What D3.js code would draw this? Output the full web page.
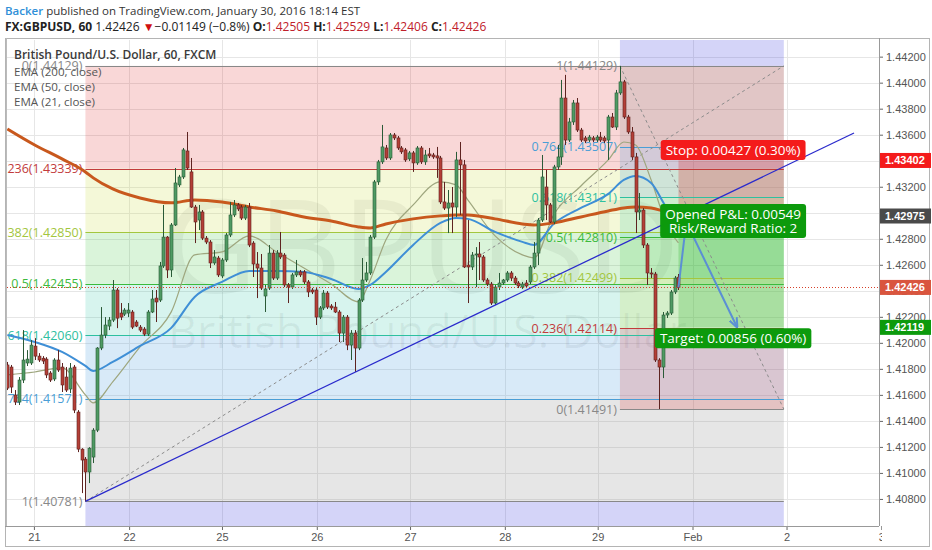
<!DOCTYPE html>
<html><head><meta charset="utf-8">
<script src="https://cdn.jsdelivr.net/npm/d3@7"></script>
<style>body{margin:0;background:#fff;} svg{display:block;font-family:"Open Sans",sans-serif;} text{white-space:pre;}</style>
</head><body><svg id="c" width="932" height="550"></svg>
<script>
// ---------------- DATA ----------------
const author = "Backer";
const symbol = "FX:GBPUSD, 60";
const lastPrice = 1.42426, change = "\u22120.01149 (\u22120.8%)";
const ohlcLast = ["1.42505","1.42529","1.42406","1.42426"];
const chartTitle = "British Pound/U.S. Dollar, 60, FXCM";
const legendNames = ["EMA (200, close)","EMA (50, close)","EMA (21, close)"];

const startIndex = -7;
const opens = [1.41830,1.41814,1.41599,1.41545,1.41714,1.41845,1.41845,1.41975,1.41898,1.41882,
1.41875,1.41768,1.41722,1.41868,1.41814,1.41737,1.41645,1.41814,1.41468,1.41183,
1.41106,1.41007,1.41122,1.41329,1.41960,1.42060,1.42129,1.42175,1.42406,1.42229,
1.42221,1.42229,1.42237,1.42160,1.42121,1.42106,1.42067,1.42237,1.42344,1.42329,
1.42591,1.42813,1.42560,1.42906,1.43214,1.43275,1.43475,1.43314,1.43044,1.42944,
1.43006,1.42805,1.42775,1.42614,1.42652,1.42514,1.42637,1.42829,1.42983,1.43060,
1.43044,1.42959,1.43044,1.42767,1.42606,1.42575,1.42360,1.42421,1.42690,1.42498,
1.42690,1.42675,1.42445,1.42429,1.42522,1.42545,1.42545,1.42468,1.42406,1.42406,
1.42198,1.42268,1.42383,1.42283,1.42275,1.42237,1.42075,1.42198,1.41983,1.42075,
1.41960,1.42329,1.42483,1.42537,1.42813,1.43237,1.43391,1.43498,1.43421,1.43598,
1.43575,1.43498,1.43483,1.43414,1.43460,1.43383,1.43498,1.43391,1.43452,1.43444,
1.43437,1.43421,1.43083,1.43036,1.43075,1.43044,1.43406,1.43368,1.42598,1.42583,
1.42675,1.42683,1.42660,1.42483,1.42452,1.42306,1.42429,1.42460,1.42483,1.42537,
1.42498,1.42460,1.42429,1.42460,1.42468,1.42583,1.42690,1.42944,1.43198,1.43060,
1.42929,1.43352,1.43429,1.43882,1.43559,1.43698,1.43844,1.43636,1.43575,1.43559,
1.43575,1.43559,1.43582,1.43575,1.43559,1.43736,1.43659,1.43921,1.44006,1.43736,
1.43621,1.43429,1.43006,1.43021,1.42752,1.42537,1.42529,1.41868,1.41814,1.42214,
1.42229,1.42391,1.42505];
const highs = [1.41853,1.41830,1.41637,1.41737,1.42098,1.41944,1.42021,1.42036,1.41921,1.41898,
1.41890,1.41783,1.41882,1.41944,1.41845,1.41814,1.41845,1.41830,1.41483,1.41190,
1.41122,1.41198,1.41344,1.41967,1.42275,1.42198,1.42198,1.42483,1.42421,1.42306,
1.42267,1.42306,1.42252,1.42175,1.42137,1.42121,1.42252,1.42406,1.42406,1.42622,
1.43060,1.42821,1.42921,1.43344,1.43291,1.43498,1.43621,1.43421,1.43060,1.43060,
1.43021,1.42821,1.42790,1.42713,1.42668,1.42652,1.42844,1.43083,1.43098,1.43075,
1.43060,1.43060,1.43075,1.42782,1.42698,1.42683,1.42445,1.42752,1.42713,1.42713,
1.42852,1.42690,1.42460,1.42537,1.42637,1.42560,1.42560,1.42483,1.42421,1.42421,
1.42283,1.42406,1.42398,1.42298,1.42314,1.42252,1.42214,1.42214,1.42098,1.42098,
1.42344,1.42652,1.42622,1.42829,1.43252,1.43406,1.43675,1.43521,1.43613,1.43613,
1.43590,1.43513,1.43498,1.43475,1.43475,1.43513,1.43513,1.43483,1.43498,1.43460,
1.43506,1.43437,1.43237,1.43175,1.43198,1.43468,1.43544,1.43406,1.42944,1.42698,
1.42736,1.42775,1.42675,1.42498,1.42468,1.42445,1.42537,1.42491,1.42552,1.42552,
1.42514,1.42475,1.42468,1.42483,1.42598,1.42775,1.42959,1.43444,1.43329,1.43075,
1.43368,1.43521,1.44021,1.44060,1.43729,1.43867,1.43882,1.43652,1.43590,1.43598,
1.43590,1.43598,1.43621,1.43590,1.43752,1.43767,1.43944,1.44129,1.44021,1.43752,
1.43659,1.43460,1.43152,1.43036,1.42767,1.42575,1.42545,1.41882,1.42237,1.42244,
1.42406,1.42514,1.42529];
const lows = [1.41637,1.41614,1.41522,1.41522,1.41691,1.41822,1.41830,1.41868,1.41853,1.41837,
1.41729,1.41699,1.41706,1.41776,1.41622,1.41622,1.41614,1.41460,1.41160,1.40845,
1.40781,1.40922,1.41076,1.41314,1.41944,1.42036,1.42098,1.42160,1.42113,1.42175,
1.42206,1.42198,1.42106,1.42121,1.42083,1.42052,1.42052,1.42229,1.42160,1.42314,
1.42576,1.42498,1.42506,1.42898,1.43198,1.43260,1.43329,1.43037,1.42767,1.42867,
1.42790,1.42759,1.42575,1.42599,1.42506,1.42498,1.42622,1.42813,1.42967,1.43013,
1.42944,1.42944,1.42736,1.42506,1.42344,1.42406,1.42237,1.42406,1.42483,1.42483,
1.42644,1.42429,1.42306,1.42414,1.42506,1.42506,1.42452,1.42352,1.42375,1.42137,
1.42183,1.42252,1.42260,1.42252,1.42229,1.42006,1.42006,1.41944,1.41868,1.41776,
1.41944,1.42314,1.42468,1.42522,1.42798,1.43214,1.43375,1.43406,1.43406,1.43559,
1.43483,1.43452,1.43391,1.43398,1.43314,1.43368,1.43375,1.43368,1.43421,1.43414,
1.43268,1.43067,1.43021,1.42844,1.42844,1.42967,1.42983,1.42575,1.42306,1.42560,
1.42429,1.42483,1.42468,1.42437,1.42291,1.42291,1.42406,1.42445,1.42468,1.42475,
1.42445,1.42421,1.42414,1.42421,1.42452,1.42568,1.42598,1.42929,1.42944,1.42921,
1.42913,1.43329,1.43368,1.43521,1.43544,1.43675,1.43621,1.43544,1.43536,1.43544,
1.43544,1.43544,1.43544,1.43536,1.43406,1.43652,1.43636,1.43906,1.43721,1.43606,
1.43406,1.42844,1.42944,1.42729,1.42445,1.42498,1.41853,1.41491,1.41729,1.42191,
1.42214,1.42375,1.42406];
const closes = [1.41652,1.41660,1.41545,1.41714,1.41868,1.41875,1.41983,1.41898,1.41868,1.41860,
1.41753,1.41714,1.41868,1.41791,1.41676,1.41637,1.41806,1.41483,1.41183,1.41099,
1.41007,1.41190,1.41329,1.41960,1.42060,1.42137,1.42175,1.42406,1.42190,1.42198,
1.42252,1.42252,1.42121,1.42129,1.42098,1.42067,1.42237,1.42337,1.42314,1.42591,
1.42813,1.42560,1.42906,1.43229,1.43275,1.43483,1.43344,1.43044,1.42929,1.43006,
1.42805,1.42775,1.42614,1.42660,1.42522,1.42637,1.42829,1.42983,1.43060,1.43029,
1.42959,1.43044,1.42752,1.42606,1.42575,1.42421,1.42414,1.42690,1.42498,1.42690,
1.42660,1.42445,1.42429,1.42522,1.42545,1.42522,1.42468,1.42391,1.42391,1.42198,
1.42268,1.42383,1.42275,1.42268,1.42237,1.42075,1.42198,1.41983,1.42075,1.41960,
1.42329,1.42483,1.42537,1.42813,1.43237,1.43391,1.43506,1.43421,1.43598,1.43575,
1.43498,1.43468,1.43406,1.43460,1.43383,1.43498,1.43391,1.43444,1.43437,1.43429,
1.43421,1.43083,1.43036,1.43075,1.43044,1.43406,1.43368,1.42583,1.42583,1.42675,
1.42683,1.42660,1.42483,1.42452,1.42306,1.42429,1.42460,1.42483,1.42537,1.42498,
1.42460,1.42437,1.42452,1.42437,1.42583,1.42690,1.42944,1.43275,1.43060,1.42929,
1.43352,1.43429,1.43882,1.43559,1.43698,1.43844,1.43636,1.43559,1.43552,1.43582,
1.43559,1.43582,1.43559,1.43552,1.43736,1.43659,1.43921,1.44006,1.43736,1.43621,
1.43429,1.43006,1.43021,1.42752,1.42537,1.42529,1.41868,1.41814,1.42214,1.42229,
1.42391,1.42498,1.42426];

const emaIdx = [-7,0,7,13,15,20,27,35,41,48,55,62,69,76,83,86,90,97,104,108,111,118,125,128,133,140,147,151,154,158,162,165];
const ema200 = [1.43644,1.43521,1.43414,1.43314,1.43268,1.43183,1.43114,1.43076,1.43099,1.43083,1.43045,1.43014,1.42968,1.42937,1.42891,1.42883,1.42914,1.42953,1.42976,1.42983,1.42983,1.42953,1.42914,1.42906,1.42922,1.42968,1.43014,1.43037,1.43045,1.43037,1.43006,1.42991];
const ema50 = [1.42061,1.42007,1.41930,1.41823,1.41784,1.41853,1.41976,1.42115,1.42353,1.42468,1.42553,1.42553,1.42545,1.42491,1.42414,1.42445,1.42545,1.42753,1.42922,1.42960,1.42953,1.42853,1.42776,1.42753,1.42914,1.43037,1.43145,1.43252,1.43283,1.43229,1.43037,1.42930];
const ema21 = [1.41753,1.41776,1.41807,1.41600,1.41538,1.41700,1.41969,1.42238,1.42676,1.42699,1.42822,1.42699,1.42576,1.42453,1.42315,1.42484,1.42791,1.43060,1.43237,1.43214,1.43099,1.42822,1.42676,1.42653,1.42983,1.43206,1.43406,1.43544,1.43521,1.43252,1.42906,1.42768];

const priceTicks = [1.408,1.410,1.412,1.414,1.416,1.418,1.420,1.422,1.424,1.426,1.428,1.430,1.432,1.434,1.436,1.438,1.440,1.442];
const dayLabels = ["21","22","25","26","27","28","29","Feb","2","3"];
const dayIndex = [-0.2,24.2,48,72.3,96.2,120.5,144.3,168.6,192.7,217];

const fibLevels = ["0","0.236","0.382","0.5","0.618","0.764","1"];
const fib1Prices = [1.44129,1.43339,1.42850,1.42455,1.42060,1.41571,1.40781];
const fib1Ext = 1.38712;
const fib1Span = [13,192];
const fib2Prices = [1.41491,1.42114,1.42499,1.42810,1.43121,1.43507,1.44129];
const fib2Ext = 1.45759;
const fib2Span = [150,192];

const posSpan = [165,192];
const entryPrice = 1.42975, stopPrice = 1.43402, targetPrice = 1.42119;
const stopText = "Stop: 0.00427 (0.30%)";
const pnlText = ["Opened P&L: 0.00549","Risk/Reward Ratio: 2"];
const targetText = "Target: 0.00856 (0.60%)";

const trendIdx = [13,210], trendPrice = [1.40781,1.43613];
const projIdx = [165,167,180], projPrice = [1.42426,1.42929,1.42122];

// ---------------- DRAW ----------------
const svg = d3.select('#c');
const L=7,R=879,T=40,B=526;
const x = d3.scaleLinear().domain([-7.1,216.4]).range([L,R]);
const y = d3.scaleLinear().domain([1.40592,1.44328]).range([B,T]);

const defs = svg.append('defs');
defs.append('clipPath').attr('id','plot').append('rect').attr('x',L).attr('y',T).attr('width',R-L).attr('height',B-T);
defs.append('clipPath').attr('id','xax').append('rect').attr('x',L).attr('y',B).attr('width',R-L+3).attr('height',25);
defs.append('marker').attr('id','arr').attr('viewBox','0 0 10 10').attr('refX',9).attr('refY',5)
  .attr('markerWidth',5).attr('markerHeight',5).attr('orient','auto')
  .append('path').attr('d','M0,1 L10,5 L0,9').attr('fill','none').attr('stroke','#5b8fd4').attr('stroke-width',2);

// header
const h1 = svg.append('text').attr('x',5).attr('y',15).style('font-size','11.5px');
h1.append('tspan').text(author).attr('fill','#2f8fd8').attr('font-weight',600);
h1.append('tspan').text(' published on TradingView.com, January 30, 2016 18:14 EST').attr('fill','#333');
const h2 = svg.append('text').attr('x',5).attr('y',31).style('font-size','12px').attr('fill','#222');
h2.append('tspan').text(symbol+' ').attr('font-weight',700);
h2.append('tspan').text(lastPrice.toFixed(5)+' ');
h2.append('tspan').text('\u25BC').attr('fill','#d01010');
h2.append('tspan').text(change+' ');
['O:','H:','L:','C:'].forEach((k,j)=>{
  h2.append('tspan').text((j?' ':'')+k).attr('font-weight',700);
  h2.append('tspan').text(ohlcLast[j]).attr('fill','#c0202a');
});

// frames
svg.append('rect').attr('x',5.5).attr('y',38.5).attr('width',924).attr('height',508).attr('fill','none').attr('stroke','#b4b4b4');

const plot = svg.append('g').attr('clip-path','url(#plot)');
// grid
plot.append('g').selectAll('line').data(priceTicks).join('line')
  .attr('x1',L).attr('x2',R).attr('y1',d=>Math.round(y(d))+0.5).attr('y2',d=>Math.round(y(d))+0.5)
  .attr('stroke','#e6e6e6');
plot.append('g').selectAll('line').data(dayIndex).join('line')
  .attr('y1',T).attr('y2',B).attr('x1',d=>Math.round(x(d))+0.5).attr('x2',d=>Math.round(x(d))+0.5)
  .attr('stroke','#e6e6e6');

// watermark
plot.append('text').attr('x',163).attr('y',293).text('GBPUSD').style('font-size','130px')
  .attr('fill','rgba(0,0,0,0.06)');
plot.append('text').attr('x',168).attr('y',348).text('British Pound/U.S. Dollar').style('font-size','45px')
  .attr('fill','rgba(0,0,0,0.06)');

// fib
const lineColors = ['#888888','#c23b3b','#a3c63e','#3cba3c','#2ec0a0','#4a9ed6','#888888'];
const fillColors = [null,'rgba(225,40,40,0.19)','rgba(200,220,60,0.2)','rgba(60,195,60,0.19)','rgba(40,195,165,0.19)','rgba(60,150,220,0.2)','rgba(128,128,128,0.2)'];
const extColor = 'rgba(60,60,225,0.22)';
function drawFib(prices, ext, span){
  const g = plot.append('g');
  const x0 = x(span[0]), x1 = x(span[1]);
  const bands = prices.slice(1).map((p,k)=>({a:prices[k],b:p,c:fillColors[k+1]}));
  bands.push({a:prices[prices.length-1], b:ext, c:extColor});
  g.selectAll('rect').data(bands).join('rect')
    .attr('x',x0).attr('width',x1-x0)
    .attr('y',d=>Math.min(y(d.a),y(d.b))).attr('height',d=>Math.abs(y(d.a)-y(d.b)))
    .attr('fill',d=>d.c);
  return g;
}
function drawFibLines(prices, span){
  const g = plot.append('g');
  const x0 = x(span[0]), x1 = x(span[1]);
  g.selectAll('line').data(prices).join('line')
    .attr('x1',x0).attr('x2',x1).attr('y1',d=>Math.round(y(d))+0.5).attr('y2',d=>Math.round(y(d))+0.5)
    .attr('stroke',(d,k)=>lineColors[k]).attr('stroke-width',1.2);
  g.selectAll('text').data(prices).join('text')
    .attr('x',x0-3).attr('y',d=>y(d)).attr('dy','0.36em').attr('text-anchor','end')
    .style('font-size','12.5px').attr('fill',(d,k)=>lineColors[k])
    .text((d,k)=>fibLevels[k]+'('+d.toFixed(5)+')');
}
drawFib(fib1Prices, fib1Ext, fib1Span);
drawFib(fib2Prices, fib2Ext, fib2Span);

// position zones
const px0 = x(posSpan[0]), px1 = x(posSpan[1]);
plot.append('rect').attr('x',px0).attr('width',px1-px0).attr('y',y(stopPrice)).attr('height',y(entryPrice)-y(stopPrice))
  .attr('fill','rgba(220,30,30,0.26)');
plot.append('rect').attr('x',px0).attr('width',px1-px0).attr('y',y(entryPrice)).attr('height',y(targetPrice)-y(entryPrice))
  .attr('fill','rgba(20,170,20,0.22)');

drawFibLines(fib1Prices, fib1Span);
drawFibLines(fib2Prices, fib2Span);

// dashed fib trend lines
plot.append('line').attr('x1',x(fib1Span[0])).attr('y1',y(fib1Prices[6])).attr('x2',x(fib1Span[1])).attr('y2',y(fib1Prices[0]))
  .attr('stroke','#8c8c8c').attr('stroke-dasharray','3,3');
plot.append('line').attr('x1',x(fib2Span[0])).attr('y1',y(fib2Prices[6])).attr('x2',x(fib2Span[1])).attr('y2',y(fib2Prices[0]))
  .attr('stroke','#8c8c8c').attr('stroke-dasharray','3,3');

// EMAs
const emaLine = d3.line().x(d=>x(d[0])).y(d=>y(d[1])).curve(d3.curveMonotoneX);
plot.append('path').attr('d',emaLine(emaIdx.map((i,k)=>[i,ema21[k]]))).attr('fill','none').attr('stroke','#9ea67e').attr('stroke-width',1.2);
plot.append('path').attr('d',emaLine(emaIdx.map((i,k)=>[i,ema50[k]]))).attr('fill','none').attr('stroke','#3f8fd6').attr('stroke-width',2);
plot.append('path').attr('d',emaLine(emaIdx.map((i,k)=>[i,ema200[k]]))).attr('fill','none').attr('stroke','#c8581d').attr('stroke-width',3);

// candles
const candles = opens.map((o,k)=>({i:startIndex+k,o,h:highs[k],l:lows[k],c:closes[k]}));
const cg = plot.append('g');
cg.selectAll('line').data(candles).join('line')
  .attr('x1',d=>Math.round(x(d.i))+0.5).attr('x2',d=>Math.round(x(d.i))+0.5)
  .attr('y1',d=>y(d.h)).attr('y2',d=>y(d.l))
  .attr('stroke',d=>d.c>=d.o?'#2a5a37':'#5e2320').attr('stroke-width',1);
cg.selectAll('rect').data(candles).join('rect')
  .attr('x',d=>Math.round(x(d.i))-1).attr('width',3)
  .attr('y',d=>y(Math.max(d.o,d.c))).attr('height',d=>Math.max(1,Math.abs(y(d.o)-y(d.c))))
  .attr('fill',d=>d.c>=d.o?'#4f9a63':'#b43f37')
  .attr('stroke',d=>d.c>=d.o?'#2a5a37':'#5e2320').attr('stroke-width',0.6);

// trend line
plot.append('line').attr('x1',x(trendIdx[0])).attr('y1',y(trendPrice[0])).attr('x2',x(trendIdx[1])).attr('y2',y(trendPrice[1]))
  .attr('stroke','#2a2acc').attr('stroke-width',1.3);

// current price line
plot.append('line').attr('x1',L).attr('x2',R).attr('y1',Math.round(y(lastPrice))+0.5).attr('y2',Math.round(y(lastPrice))+0.5)
  .attr('stroke','#d6402a').attr('stroke-dasharray','1,2');

// projection path
plot.append('path').attr('d',d3.line()(projIdx.map((i,k)=>[x(i),y(projPrice[k])])))
  .attr('fill','none').attr('stroke','#5b8fd4').attr('stroke-width',2).attr('marker-end','url(#arr)');

// position labels
const pcx = (px0+px1)/2 + 2;
function label(lines, cy, color){
  const g = svg.append('g');
  const t = g.append('text').attr('text-anchor','middle').style('font-size','13.5px').attr('fill','#fff');
  lines.forEach((s,k)=>t.append('tspan').attr('x',pcx).attr('y',cy + (k-(lines.length-1)/2)*14).attr('dy','0.36em').text(s));
  const w = t.node().getBBox().width + 10, h = lines.length*14 + 6;
  g.insert('rect','text').attr('x',pcx-w/2).attr('y',cy-h/2).attr('width',w).attr('height',h).attr('rx',3).attr('fill',color);
}
label([stopText], y(stopPrice)-10.5, '#f41b1b');
label(pnlText, y(entryPrice)+5, '#0c9a0c');
label([targetText], y(targetPrice)+11, '#0c9a0c');

// title & legend
svg.append('text').attr('x',14).attr('y',59).text(chartTitle).style('font-size','12px').attr('font-weight',600).attr('fill','#3a3a3a');
svg.selectAll('text.leg').data(legendNames).join('text').attr('class','leg')
  .attr('x',14).attr('y',(d,k)=>76+k*15).text(d=>d).style('font-size','11.6px').attr('fill','#555');

// axes
const ya = svg.append('g').attr('transform',`translate(${R},0)`)
  .call(d3.axisRight(y).tickValues(priceTicks).tickFormat(d3.format('.5f')).tickSize(4).tickPadding(3));
ya.select('.domain').remove();
ya.selectAll('line').attr('stroke','#666');
ya.selectAll('text').style('font-size','11px').style('font-family','"Liberation Sans",Arial,sans-serif').attr('fill','#555');

const xa = svg.append('g').attr('clip-path','url(#xax)').append('g').attr('transform',`translate(0,${B})`)
  .call(d3.axisBottom(x).tickValues(dayIndex).tickFormat((d,k)=>dayLabels[k]).tickSize(4).tickPadding(3));
xa.select('.domain').remove();
xa.selectAll('line').attr('stroke','#666');
xa.selectAll('text').style('font-size','11px').style('font-family','"Liberation Sans",Arial,sans-serif').attr('fill','#555');

// plot frame lines
svg.append('line').attr('x1',R+0.5).attr('x2',R+0.5).attr('y1',38).attr('y2',B).attr('stroke','#999');
svg.append('line').attr('x1',5).attr('x2',R).attr('y1',B+0.5).attr('y2',B+0.5).attr('stroke','#999');
svg.append('line').attr('x1',L-0.5).attr('x2',L-0.5).attr('y1',38).attr('y2',B).attr('stroke','#bbb');

// price boxes
const boxes = [[stopPrice,'#f41b1b'],[entryPrice,'#4a4a4a'],[lastPrice,'#d9553e'],[targetPrice,'#0c9a0c']];
const bg = svg.append('g');
boxes.forEach(([p,c])=>{
  bg.append('rect').attr('x',R+1).attr('y',y(p)-7.5).attr('width',51).attr('height',15).attr('fill',c);
  bg.append('text').attr('x',R+6).attr('y',y(p)).attr('dy','0.36em').text(p.toFixed(5))
    .style('font-size','11px').style('font-family','"Liberation Sans",Arial,sans-serif').attr('font-weight',700).attr('fill','#fff');
});
</script></body></html>
